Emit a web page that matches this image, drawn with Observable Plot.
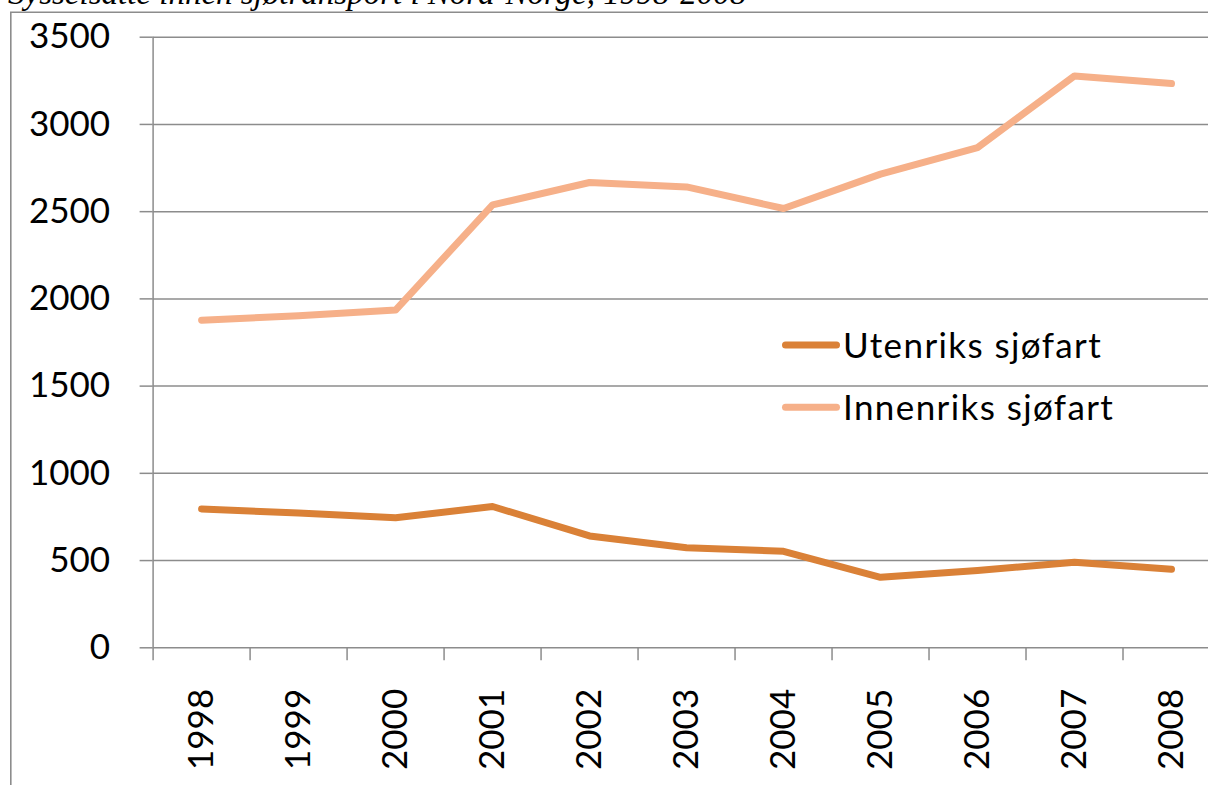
<!DOCTYPE html>
<html><head><meta charset="utf-8">
<script src="https://cdn.jsdelivr.net/npm/d3@7"></script>
<script src="https://cdn.jsdelivr.net/npm/@observablehq/plot@0.6"></script>
<style>
html,body{margin:0;padding:0;background:#fff;overflow:hidden;width:1208px;height:785px;}
#wrap{position:relative;width:1208px;height:785px;overflow:hidden;background:#fff;}
#chart{position:absolute;left:0;top:0;}
#deco{position:absolute;left:0;top:0;pointer-events:none;}
</style></head>
<body><div id="wrap"><div id="chart"></div><svg id="deco" width="1208" height="785"></svg></div>
<script>
const titleText = "Sysselsatte innen sjøtransport i Nord-Norge, 1998-2008";
const years = [1998, 1999, 2000, 2001, 2002, 2003, 2004, 2005, 2006, 2007, 2008];
const utenriks = [796, 772, 745, 810, 641, 574, 553, 404, 443, 490, 450];
const innenriks = [1878, 1903, 1936, 2539, 2667, 2642, 2518, 2715, 2867, 3278, 3234];
const seriesNames = ["Utenriks sjøfart", "Innenriks sjøfart"];
const seriesColors = ["#DA8137", "#F6B089"];
const yTicks = [0, 500, 1000, 1500, 2000, 2500, 3000, 3500];

const data = years.flatMap((y, i) => [
  {year: y, value: utenriks[i], series: seriesNames[0]},
  {year: y, value: innenriks[i], series: seriesNames[1]}
]);
const bounds = years.map(y => y - 0.5).concat([years[years.length - 1] + 0.5]);
const grid = "#8c8c8c";

const chart = Plot.plot({
  width: 1208, height: 785,
  marginLeft: 152.6, marginRight: 0, marginTop: 36.7, marginBottom: 137.7,
  style: {fontFamily: "Lato", fontSize: "35px", color: "#000", background: "transparent", overflow: "hidden"},
  x: {domain: [bounds[0], bounds[bounds.length - 1]], range: [152.6, 1219.5]},
  y: {domain: [0, 3500]},
  color: {domain: seriesNames, range: seriesColors},
  marks: [
    Plot.ruleY(yTicks, {x1: bounds[0], x2: bounds[bounds.length - 1], stroke: grid, strokeWidth: 1.5}),
    Plot.ruleX([bounds[0]], {y1: 0, y2: 3500, stroke: grid, strokeWidth: 1.5}),
    Plot.axisY({ticks: yTicks, tickSize: 13, tickPadding: 30, stroke: grid, strokeWidth: 1.5, label: null, tickFormat: d => String(d), fontSize: 35}),
    Plot.axisX({ticks: bounds, tickSize: 13, tickFormat: () => "", label: null, stroke: grid, strokeWidth: 1.5}),
    Plot.axisX({ticks: years, tickSize: 0, tickPadding: 41, tickRotate: -90, tickFormat: d => String(d), label: null, fontSize: 35}),
    Plot.line(data, {x: "year", y: "value", z: "series", stroke: "series", strokeWidth: 7, strokeLinecap: "round", strokeLinejoin: "round"})
  ]
});
document.getElementById("chart").appendChild(chart);

// decorations: frame, title, legend
const deco = d3.select("#deco");
deco.append("path").attr("d", "M10.8,800 V12.3 H1220").attr("fill", "none").attr("stroke", grid).attr("stroke-width", 1.6);
deco.append("text").attr("x", 8).attr("y", 4).attr("font-family", "Liberation Serif").attr("font-style", "italic")
  .attr("font-size", 33).attr("fill", "#000").text(titleText);
seriesNames.forEach((n, i) => {
  const cy = 345 + i * 62.3;
  deco.append("line").attr("x1", 785.5).attr("x2", 836.5).attr("y1", cy).attr("y2", cy)
    .attr("stroke", seriesColors[i]).attr("stroke-width", 7).attr("stroke-linecap", "round");
  deco.append("text").attr("x", 843).attr("y", cy).attr("dy", "0.36em").attr("font-family", "Lato")
    .attr("font-size", 35).attr("letter-spacing", 1.4).attr("fill", "#000").text(n);
});
</script>
</body></html>
